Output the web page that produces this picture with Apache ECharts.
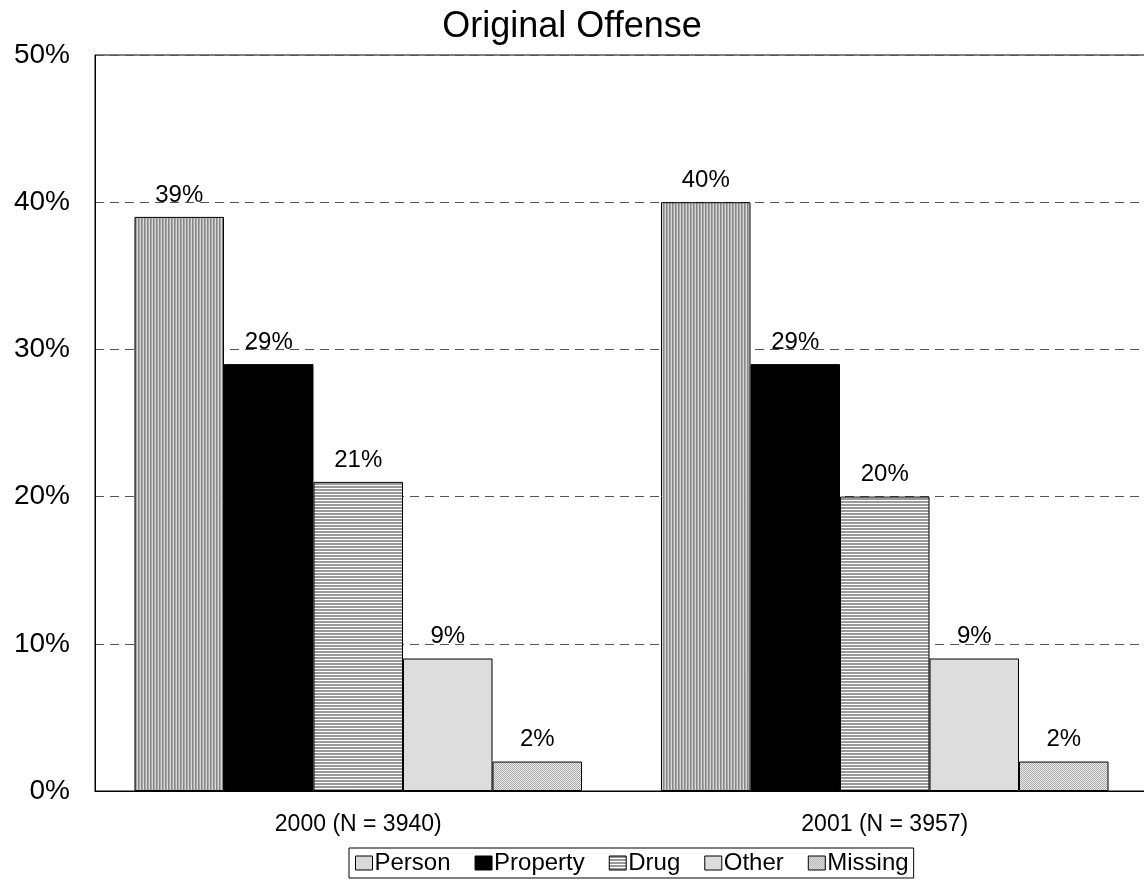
<!DOCTYPE html>
<html>
<head>
<meta charset="utf-8">
<script src="https://cdn.jsdelivr.net/npm/echarts@6/dist/echarts.min.js"></script>
<style>
  html, body { margin: 0; padding: 0; background: #fff; }
  #chart { width: 1144px; height: 884px; }
</style>
</head>
<body>
<div id="chart"></div>
<script>
// Share of cases by original offense type, per admission year
const categories = ['2000 (N = 3940)', '2001 (N = 3957)'];
const seriesNames = ['Person', 'Property', 'Drug', 'Other', 'Missing'];
const person = [39, 40];
const property = [29, 29];
const drug = [21, 20];
const other = [9, 9];
const missing = [2, 2];
const yTicks = [0, 10, 20, 30, 40, 50];

const FONT = '"Liberation Sans", Arial, sans-serif';

// Small tiled canvases used as fill patterns
function makePattern(w, h, draw) {
  const c = document.createElement('canvas');
  c.width = w; c.height = h;
  const ctx = c.getContext('2d');
  ctx.fillStyle = '#ffffff';
  ctx.fillRect(0, 0, w, h);
  draw(ctx);
  return { image: c, repeat: 'repeat' };
}
const vStripes = makePattern(3, 1, ctx => {
  ctx.fillStyle = '#888888'; ctx.fillRect(0, 0, 1, 1);
  ctx.fillStyle = '#a8a8a8'; ctx.fillRect(1, 0, 1, 1);
  ctx.fillStyle = '#d6d6d6'; ctx.fillRect(2, 0, 1, 1);
});
const hStripes = makePattern(1, 3, ctx => {
  ctx.fillStyle = '#999999'; ctx.fillRect(0, 0, 1, 2);
});
const checker = makePattern(2, 2, ctx => {
  ctx.fillStyle = '#ececec'; ctx.fillRect(0, 0, 2, 2);
  ctx.fillStyle = '#ababab'; ctx.fillRect(0, 0, 1, 1); ctx.fillRect(1, 1, 1, 1);
});

const seriesData = [person, property, drug, other, missing];
const barFills = [vStripes, '#000000', hStripes, '#dddddd', checker];
const legendFills = ['#d9d9d9', '#000000', hStripes, '#dddddd', checker];

const chart = echarts.init(document.getElementById('chart'), null, { renderer: 'canvas' });

chart.setOption({
  animation: false,
  backgroundColor: '#ffffff',
  textStyle: { fontFamily: FONT, color: '#000' },
  title: {
    text: 'Original Offense',
    left: 'center',
    top: 4,
    textStyle: { fontFamily: FONT, fontSize: 36, fontWeight: 'normal', color: '#000' }
  },
  legend: {
    left: 349,
    top: 848,
    orient: 'horizontal',
    padding: [3, 5, 3, 6],
    itemGap: 24,
    itemWidth: 17,
    itemHeight: 14,
    borderColor: '#000',
    borderWidth: 1,
    textStyle: { fontFamily: FONT, fontSize: 24, color: '#000', padding: [0, 0, 0, -3] },
    data: seriesNames.map((n, i) => ({
      name: n,
      icon: 'rect',
      itemStyle: { color: legendFills[i], borderColor: '#000', borderWidth: 1 }
    }))
  },
  grid: {
    left: 95, top: 55, width: 1053, height: 736,
    containLabel: false,
    outerBoundsMode: 'none',
    show: true, borderColor: '#000', borderWidth: 1
  },
  xAxis: {
    type: 'category',
    data: categories,
    axisLine: { show: true, lineStyle: { color: '#000', width: 1 } },
    axisTick: { show: false },
    axisLabel: { fontFamily: FONT, fontSize: 23, color: '#000', margin: 22 }
  },
  yAxis: {
    type: 'value',
    min: yTicks[0],
    max: yTicks[yTicks.length - 1],
    interval: yTicks[1] - yTicks[0],
    axisLine: { show: true, lineStyle: { color: '#000', width: 1 } },
    axisTick: { show: false },
    axisLabel: { fontFamily: FONT, fontSize: 28, color: '#000', margin: 25, formatter: '{value}%' },
    splitLine: { show: true, lineStyle: { color: '#555', width: 1, type: [9, 6] } }
  },
  series: seriesNames.map((name, i) => ({
    name: name,
    type: 'bar',
    data: seriesData[i],
    barGap: '0%',
    barCategoryGap: '15%',
    itemStyle: { color: barFills[i], borderColor: '#000', borderWidth: 1 },
    label: {
      show: true,
      position: 'top',
      distance: 10,
      formatter: '{c}%',
      fontFamily: FONT,
      fontSize: 24,
      color: '#000'
    }
  }))
});
</script>
</body>
</html>
